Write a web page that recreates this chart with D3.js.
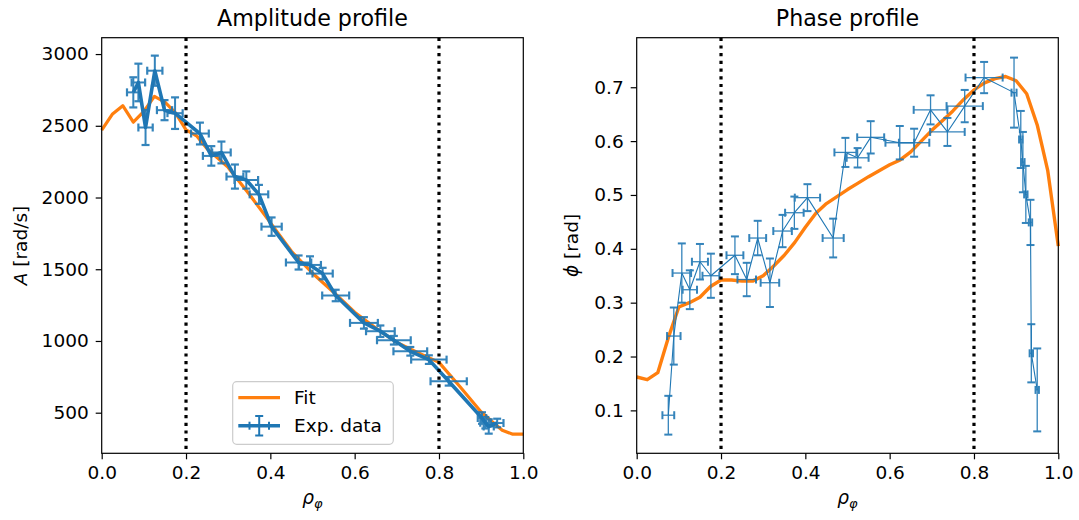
<!DOCTYPE html>
<html><head><meta charset="utf-8">
<script src="https://cdn.jsdelivr.net/npm/d3@7"></script>
<style>
body{margin:0;background:#fff}
svg{display:block}
text{font-family:"DejaVu Sans",sans-serif;fill:#000}
</style>
</head><body>
<svg id="c" width="1079" height="520"></svg>
<script>
// ---------- data ----------
const ampRho      = [0.075,0.087,0.104,0.126,0.149,0.174,0.233,0.260,0.284,0.316,0.343,0.373,0.403,0.467,0.494,0.524,0.555,0.622,0.661,0.693,0.732,0.776,0.823,0.902,0.910,0.918,0.938];
const ampVal      = [2733,2802,2488,2884,2609,2588,2446,2290,2314,2146,2122,2022,1797,1547,1530,1470,1317,1126,1068,1005,928,870,719,463,430,404,428];
const ampRhoErr   = [0.015,0.016,0.017,0.018,0.018,0.018,0.021,0.020,0.022,0.020,0.028,0.022,0.024,0.030,0.026,0.024,0.032,0.033,0.034,0.040,0.040,0.042,0.043,0.010,0.012,0.012,0.015];
const ampValErr   = [105,131,122,105,70,110,76,68,76,84,60,66,64,49,60,40,40,40,40,30,30,30,30,40,40,50,30];

const ampFitRho   = [0,0.025,0.05,0.075,0.1,0.125,0.15,0.175,0.2,0.225,0.25,0.3,0.35,0.4,0.45,0.5,0.55,0.6,0.65,0.7,0.75,0.8,0.85,0.9,0.925,0.95,0.975,1.0];
const ampFitVal   = [2470,2580,2640,2525,2600,2705,2665,2590,2472,2430,2340,2210,2023,1825,1625,1472,1340,1200,1090,990,918,851,681,505,440,378,350,350];

const phaseRho    = [0.075,0.088,0.107,0.126,0.150,0.176,0.233,0.261,0.287,0.316,0.346,0.374,0.405,0.466,0.495,0.524,0.555,0.624,0.658,0.697,0.737,0.778,0.824,0.895,0.911,0.916,0.923,0.934,0.936,0.950];
const phaseVal    = [0.091,0.238,0.355,0.324,0.376,0.350,0.388,0.343,0.420,0.337,0.433,0.467,0.495,0.420,0.579,0.569,0.607,0.597,0.597,0.658,0.617,0.665,0.718,0.690,0.603,0.561,0.501,0.449,0.206,0.138];
const phaseRhoErr = [0.014,0.016,0.022,0.017,0.019,0.020,0.020,0.022,0.020,0.022,0.022,0.022,0.030,0.025,0.026,0.026,0.032,0.034,0.036,0.040,0.041,0.043,0.044,0.006,0.004,0.004,0.004,0.004,0.004,0.004];
const phaseValErr = [0.036,0.053,0.055,0.036,0.033,0.041,0.035,0.031,0.032,0.045,0.030,0.030,0.025,0.036,0.027,0.018,0.030,0.031,0.026,0.027,0.026,0.030,0.029,0.065,0.053,0.056,0.053,0.042,0.054,0.077];

const phaseFitRho = [0,0.025,0.05,0.075,0.1,0.125,0.15,0.175,0.2,0.225,0.25,0.275,0.3,0.325,0.35,0.375,0.4,0.425,0.45,0.475,0.5,0.525,0.55,0.575,0.6,0.625,0.65,0.675,0.7,0.725,0.75,0.775,0.8,0.825,0.85,0.875,0.9,0.925,0.95,0.975,1.0];
const phaseFitVal = [0.162,0.157,0.170,0.235,0.292,0.300,0.310,0.330,0.342,0.342,0.340,0.340,0.350,0.368,0.388,0.412,0.440,0.466,0.484,0.497,0.510,0.522,0.534,0.545,0.556,0.565,0.580,0.600,0.620,0.638,0.656,0.677,0.695,0.708,0.716,0.720,0.712,0.688,0.630,0.545,0.405];

const xTicks      = [0,0.2,0.4,0.6,0.8,1.0];
const ampTicks    = [500,1000,1500,2000,2500,3000];
const phaseTicks  = [0.1,0.2,0.3,0.4,0.5,0.6,0.7];
const vLines      = [0.2,0.8];

// ---------- layout ----------
const svg = d3.select("#c");
const BLUE = "#1f77b4", ORANGE = "#ff7f0e";
const TOPY = 37.7, BOTY = 453.3, FS = 18.5, AW = 421.6;

function panel(opts){
  const x = d3.scaleLinear().domain([0,1]).range([opts.x0, opts.x0+AW]);
  const y = d3.scaleLinear().domain(opts.ydom).range([BOTY, TOPY]);
  const g = svg.append("g");

  // fit
  g.append("path").datum(opts.fitRho.map((r,i)=>[r,opts.fitVal[i]]))
    .attr("fill","none").attr("stroke",ORANGE).attr("stroke-width",opts.fitW)
    .attr("stroke-linejoin","round")
    .attr("d", d3.line().x(d=>x(d[0])).y(d=>y(d[1])));

  // data line
  g.append("path").datum(opts.rho.map((r,i)=>[r,opts.val[i]]))
    .attr("fill","none").attr("stroke",BLUE).attr("stroke-width",opts.dataW)
    .attr("stroke-linejoin","round")
    .attr("d", d3.line().x(d=>x(d[0])).y(d=>y(d[1])));

  // error bars
  const eb = g.append("g").attr("stroke",BLUE).attr("stroke-width",opts.errW).attr("opacity",0.9);
  const cap = 4;
  opts.rho.forEach((r,i)=>{
    const v = opts.val[i];
    const cx = x(r), cy = y(v);
    const xl = x(r-opts.rErr[i]), xr = x(r+opts.rErr[i]);
    const yl = y(v-opts.vErr[i]), yh = y(v+opts.vErr[i]);
    eb.append("line").attr("x1",xl).attr("x2",xr).attr("y1",cy).attr("y2",cy);
    eb.append("line").attr("x1",cx).attr("x2",cx).attr("y1",yl).attr("y2",yh);
    eb.append("line").attr("x1",xl).attr("x2",xl).attr("y1",cy-cap).attr("y2",cy+cap).attr("stroke-width",opts.capW);
    eb.append("line").attr("x1",xr).attr("x2",xr).attr("y1",cy-cap).attr("y2",cy+cap).attr("stroke-width",opts.capW);
    eb.append("line").attr("x1",cx-cap).attr("x2",cx+cap).attr("y1",yl).attr("y2",yl).attr("stroke-width",opts.capW);
    eb.append("line").attr("x1",cx-cap).attr("x2",cx+cap).attr("y1",yh).attr("y2",yh).attr("stroke-width",opts.capW);
  });

  // vertical dotted lines
  g.selectAll(".vl").data(vLines).enter().append("line")
    .attr("x1",d=>x(d)).attr("x2",d=>x(d)).attr("y1",TOPY).attr("y2",BOTY)
    .attr("stroke","#000").attr("stroke-width",3.2).attr("stroke-dasharray","3.2,4.5");

  // axes
  const xa = g.append("g").attr("transform",`translate(0,${BOTY})`)
    .call(d3.axisBottom(x).tickValues(xTicks).tickFormat(d3.format(".1f")).tickSize(6).tickPadding(7));
  const ya = g.append("g").attr("transform",`translate(${opts.x0},0)`)
    .call(d3.axisLeft(y).tickValues(opts.yticks).tickFormat(opts.yfmt).tickSize(6).tickPadding(7));
  [xa,ya].forEach(a=>{
    a.select(".domain").remove();
    a.selectAll("line").attr("stroke","#000").attr("stroke-width",1.2);
    a.selectAll("text").attr("font-size",FS).attr("font-family","DejaVu Sans").attr("fill","#000");
  });

  // frame
  g.append("rect").attr("x",opts.x0).attr("y",TOPY).attr("width",AW).attr("height",BOTY-TOPY)
    .attr("fill","none").attr("stroke","#000").attr("stroke-width",1.2);

  // title
  g.append("text").attr("x",opts.x0+AW/2).attr("y",26).attr("text-anchor","middle")
    .attr("font-size",22.2).text(opts.title);

  // x label
  const xl = g.append("text").attr("x",opts.x0+AW/2).attr("y",504).attr("text-anchor","middle").attr("font-size",FS);
  xl.append("tspan").attr("font-style","italic").text("ρ");
  xl.append("tspan").attr("font-style","italic").attr("font-size",13).attr("dy",4).text("φ");

  // y label
  const yl = g.append("text").attr("transform",`translate(${opts.ylx},245.5) rotate(-90)`)
    .attr("text-anchor","middle").attr("font-size",FS);
  yl.append("tspan").attr("font-style","italic").text(opts.ysym);
  yl.append("tspan").text(opts.yunit);

  return {x,y,g};
}

panel({x0:101.7, ydom:[217,3114], rho:ampRho, val:ampVal, rErr:ampRhoErr, vErr:ampValErr,
  fitRho:ampFitRho, fitVal:ampFitVal, fitW:3.2, dataW:3.6, errW:2, capW:2.2,
  yticks:ampTicks, yfmt:d3.format("d"), title:"Amplitude profile", ylx:27, ysym:"A", yunit:" [rad/s]"});

panel({x0:636.7, ydom:[0.0203,0.792], rho:phaseRho, val:phaseVal, rErr:phaseRhoErr, vErr:phaseValErr,
  fitRho:phaseFitRho, fitVal:phaseFitVal, fitW:3.4, dataW:1.1, errW:1.3, capW:2,
  yticks:phaseTicks, yfmt:d3.format(".1f"), title:"Phase profile", ylx:578, ysym:"ϕ", yunit:" [rad]"});

// ---------- legend (left panel) ----------
const lg = svg.append("g");
lg.append("rect").attr("x",232.7).attr("y",381.7).attr("width",160.6).attr("height",62.6)
  .attr("rx",4).attr("fill","#fff").attr("fill-opacity",0.8).attr("stroke","#cccccc").attr("stroke-width",1.2);
lg.append("line").attr("x1",238.3).attr("x2",280).attr("y1",397.7).attr("y2",397.7)
  .attr("stroke",ORANGE).attr("stroke-width",3.2);
lg.append("text").attr("x",294).attr("y",404.2).attr("font-size",FS).text("Fit");
const le = lg.append("g").attr("stroke",BLUE);
le.append("line").attr("x1",238.3).attr("x2",280).attr("y1",425.7).attr("y2",425.7).attr("stroke-width",3.6);
le.append("line").attr("x1",259.2).attr("x2",259.2).attr("y1",416).attr("y2",435.5).attr("stroke-width",2);
le.append("line").attr("x1",255.2).attr("x2",263.2).attr("y1",416).attr("y2",416).attr("stroke-width",2);
le.append("line").attr("x1",255.2).attr("x2",263.2).attr("y1",435.5).attr("y2",435.5).attr("stroke-width",2);
le.append("line").attr("x1",249.5).attr("x2",249.5).attr("y1",421.7).attr("y2",429.7).attr("stroke-width",2);
le.append("line").attr("x1",269).attr("x2",269).attr("y1",421.7).attr("y2",429.7).attr("stroke-width",2);
lg.append("text").attr("x",294).attr("y",432.2).attr("font-size",FS).text("Exp. data");
</script>
</body></html>
